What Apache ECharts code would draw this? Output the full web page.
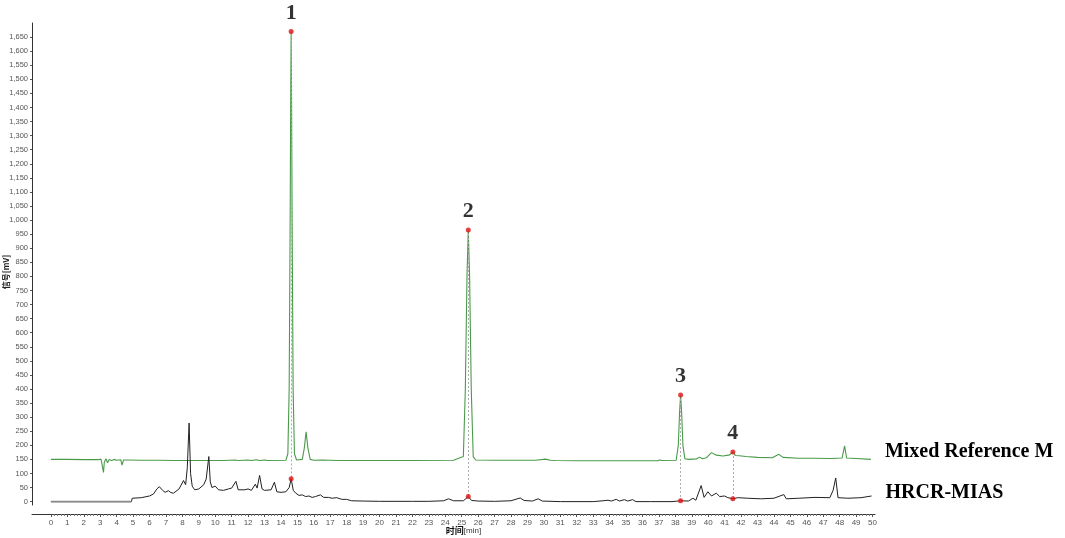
<!DOCTYPE html>
<html>
<head>
<meta charset="utf-8">
<script src="https://cdn.jsdelivr.net/npm/echarts@6/dist/echarts.min.js"></script>
<style>html,body{margin:0;padding:0;background:#fff;}#c{width:1065px;height:538px;}</style>
</head>
<body>
<div id="c"></div>
<script>
// Mixed reference (green) chromatogram: time [min], signal [mV]
const refTimes = [0,1.0,2.0,2.9,3.05,3.15,3.2,3.25,3.35,3.45,3.55,3.7,3.85,4.0,4.25,4.33,4.37,4.42,4.6,5.5,6.5,7.5,9.0,10.5,11.2,11.4,12.0,12.2,12.5,12.7,13.0,13.2,14.3,14.42,14.5,14.56,14.6,14.62,14.64,14.68,14.74,14.82,14.95,15.3,15.42,15.53,15.64,15.78,16.0,16.5,17.5,20,22,24.5,25.1,25.22,25.32,25.4,25.48,25.58,25.7,25.85,27,29.5,30.1,30.4,30.7,32,34,36,36.9,37.05,37.2,38.05,38.18,38.26,38.32,38.38,38.46,38.58,38.8,39.3,39.47,39.65,39.9,40.2,40.5,40.9,41.3,41.5,41.65,41.9,42.3,43.0,43.9,44.3,44.55,45.5,46.5,47.5,48.15,48.3,48.42,49.0,49.9];
const refValues = [150,150,149,149,151,120,104,140,152,138,150,146,150,147,149,130,125,148,148,147,147,146,146,146,148,146,148,146,149,146,148,146,147,170,400,1000,1500,1670,1500,1000,400,170,148,150,190,248,190,150,147,148,146,146,146,147,160,400,800,965,800,400,160,148,147,147,151,147,146,145,145,145,145,148,146,147,200,320,379,320,200,152,150,152,158,152,156,174,165,162,166,176,164,163,160,157,156,168,157,154,154,153,155,198,155,153,150];

// HRCR-MIAS (black) chromatogram
const sampleTimes = [0,4.9,4.95,5.5,6.0,6.24,6.45,6.6,6.8,6.95,7.15,7.3,7.46,7.8,8.07,8.2,8.3,8.41,8.5,8.6,8.75,9.0,9.3,9.45,9.61,9.7,9.8,10.0,10.2,10.5,10.8,11.0,11.26,11.4,11.8,12.0,12.2,12.44,12.55,12.7,12.85,13.0,13.4,13.6,13.75,14.0,14.3,14.5,14.62,14.75,14.9,15.1,15.3,15.5,15.7,15.9,16.1,16.4,16.6,16.9,17.1,17.4,17.7,18.0,18.3,19,20,21,22,23,23.9,24.2,24.5,25.1,25.4,25.6,26,27,28,28.56,28.8,29.3,29.65,29.9,31,33,33.6,33.9,34.1,34.4,34.6,34.9,35.1,35.4,35.6,36.5,37.8,38.32,38.8,39.07,39.25,39.57,39.75,39.98,40.2,40.49,40.7,41.0,41.2,41.5,41.8,42.4,43.2,44.0,44.6,44.75,45.5,46.5,47.4,47.6,47.76,47.9,48.5,49.3,49.94];
const sampleValues = [0,0,12,14,20,27,45,53,40,33,39,32,30,45,75,60,120,279,100,55,42,45,60,80,160,70,50,55,42,40,45,48,72,42,42,45,40,62,48,93,45,40,42,69,35,33,35,50,81,40,30,22,24,18,20,15,18,24,15,15,12,14,8,8,3,2,1,1,1,1,3,10,3,3,18,4,2,1,3,13,4,2,10,2,0,0,3,5,2,8,2,7,2,7,0,0,0,3,2,12,5,57,15,35,20,30,18,20,14,10,14,12,10,12,25,10,12,15,14,40,84,14,12,14,20];
const sampleGrayCount = 3; // leading flat segment drawn in lighter gray

// Marked peaks
const peakNames = ['1','2','3','4'];
const peakTimes = [14.62, 25.4, 38.32, 41.5];
const peakRefValues = [1670, 965, 379, 176];
const peakSampleValues = [81, 18, 3, 10];

// Axis ticks
const xTickLabels = [0,1,2,3,4,5,6,7,8,9,10,11,12,13,14,15,16,17,18,19,20,21,22,23,24,25,26,27,28,29,30,31,32,33,34,35,36,37,38,39,40,41,42,43,44,45,46,47,48,49,50];
const yTickLabels = [0,50,100,150,200,250,300,350,400,450,500,550,600,650,700,750,800,850,900,950,1000,1050,1100,1150,1200,1250,1300,1350,1400,1450,1500,1550,1600,1650];
const xMinorTicks = [];
for (let i = 0; i < xTickLabels.length - 1; i++) {
  for (let k = 1; k < 5; k++) xMinorTicks.push(+(xTickLabels[i] + k * 0.2).toFixed(2));
}

const zip = (a, b) => a.map((v, i) => [v, b[i]]);
const fmt = v => String(v).replace(/\B(?=(\d{3})+(?!\d))/g, ',');
const serif = 'Liberation Serif';

const chart = echarts.init(document.getElementById('c'), null, {renderer: 'canvas'});
const xMin = -1.15, xMax = 50.15;
chart.setOption({
  animation: false,
  backgroundColor: '#fff',
  grid: {left: 32, right: 190, top: 23, bottom: 33, containLabel: false, outerBoundsMode: 'none'},
  xAxis: [{
    type: 'value', min: xMin, max: xMax, position: 'bottom', offset: 9,
    name: '{b|时间}{n|[min]}', nameLocation: 'middle', nameGap: 12, nameMoveOverlap: false,
    nameTextStyle: {padding: [0, 0, 0, 20], rich: {
      b: {fontFamily: 'Noto Sans CJK SC', fontWeight: 'bold', fontSize: 9, color: '#111'},
      n: {fontFamily: 'Liberation Sans', fontSize: 8, color: '#333'}
    }},
    axisLine: {show: true, onZero: false, lineStyle: {color: '#333', width: 1}},
    axisTick: {show: true, customValues: xTickLabels, length: 3, lineStyle: {color: '#555'}},
    axisLabel: {customValues: xTickLabels, fontSize: 8, color: '#555', fontFamily: 'Liberation Sans', margin: 5},
    splitLine: {show: false}
  }, {
    type: 'value', min: xMin, max: xMax, position: 'bottom', offset: 9,
    axisLine: {show: false, onZero: false},
    axisTick: {show: true, customValues: xMinorTicks, length: 2, lineStyle: {color: '#777'}},
    axisLabel: {show: false},
    splitLine: {show: false}
  }],
  yAxis: {
    type: 'value', min: -12, max: 1700,
    name: '信号[mV]', nameLocation: 'middle', nameRotate: 90, nameGap: 22, nameMoveOverlap: false,
    nameTextStyle: {fontFamily: 'Noto Sans CJK SC', fontWeight: 'bold', fontSize: 8, color: '#222', padding: [0, 16, 0, 0]},
    axisLine: {show: true, onZero: false, lineStyle: {color: '#333', width: 1}},
    axisTick: {show: true, customValues: yTickLabels, length: 2, lineStyle: {color: '#555'}},
    axisLabel: {customValues: yTickLabels, fontSize: 7.5, color: '#555', fontFamily: 'Liberation Sans', margin: 4, formatter: v => fmt(v)},
    splitLine: {show: false}
  },
  series: [{
    name: 'Mixed Reference M', type: 'line', xAxisIndex: 0,
    data: zip(refTimes, refValues), showSymbol: false, symbol: 'none',
    lineStyle: {color: '#4a9a4a', width: 1.1}, itemStyle: {color: '#4a9a4a'},
    endLabel: {show: true, formatter: '{a}', distance: 14, offset: [0, -8],
      fontFamily: serif, fontWeight: 'bold', fontSize: 20, color: '#000'},
    z: 2
  }, {
    name: 'HRCR-MIAS', type: 'line', xAxisIndex: 0,
    data: zip(sampleTimes, sampleValues), showSymbol: false, symbol: 'none',
    lineStyle: {color: '#222', width: 1}, itemStyle: {color: '#222'},
    endLabel: {show: true, formatter: '{a}', distance: 14, offset: [0, -3],
      fontFamily: serif, fontWeight: 'bold', fontSize: 20, color: '#000'},
    z: 2
  }, {
    name: 'sampleStart', type: 'line', xAxisIndex: 0,
    data: zip(sampleTimes, sampleValues).slice(0, sampleGrayCount - 1),
    showSymbol: false, symbol: 'none',
    lineStyle: {color: '#8a8a8a', width: 1.6}, z: 3
  }, {
    name: 'peaksRef', type: 'scatter', xAxisIndex: 0,
    data: zip(peakTimes, peakRefValues).map((p, i) => ({value: p, name: peakNames[i]})),
    symbolSize: 5, itemStyle: {color: '#e01010'},
    label: {show: true, position: 'top', distance: 5, formatter: '{b}',
      fontFamily: serif, fontWeight: 'bold', fontSize: 22, color: '#000'},
    z: 4
  }, {
    name: 'peaksSample', type: 'scatter', xAxisIndex: 0,
    data: zip(peakTimes, peakSampleValues),
    symbolSize: 5, itemStyle: {color: '#e01010'},
    z: 4
  }, {
    name: 'peakLinks', type: 'lines', coordinateSystem: 'cartesian2d', xAxisIndex: 0,
    polyline: false, silent: true,
    data: peakTimes.map((t, i) => ({coords: [[t, peakRefValues[i]], [t, peakSampleValues[i]]]})),
    lineStyle: {color: '#aaa', type: [2, 2], width: 1, opacity: 1},
    z: 3
  }]
});
</script>
</body>
</html>
